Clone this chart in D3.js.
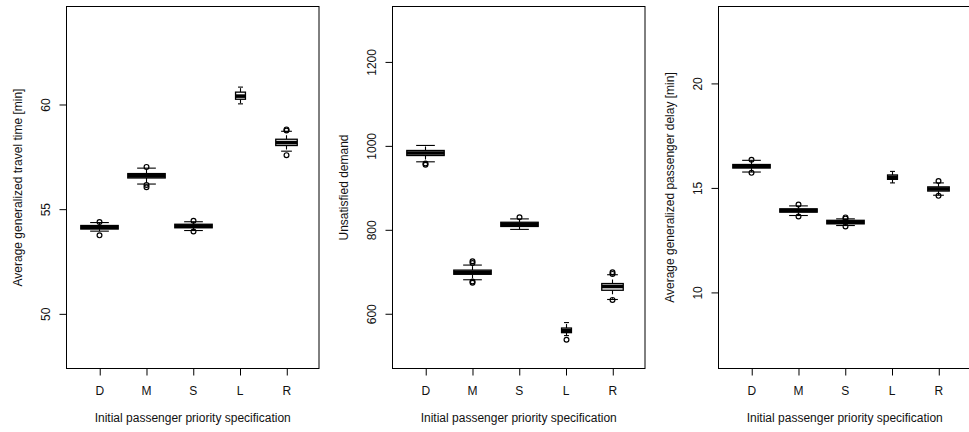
<!DOCTYPE html>
<html>
<head>
<meta charset="utf-8">
<script src="https://cdn.jsdelivr.net/npm/d3@7"></script>
<style>
  html, body { margin: 0; padding: 0; background: #fff; }
  svg { display: block; }
  text { font-family: "Liberation Sans", Arial, Helvetica, sans-serif; fill: #111; }
</style>
</head>
<body>
<svg id="chart" width="969" height="432"></svg>
<script>
// Priority specifications on the x axis
const categories = ["D", "M", "S", "L", "R"];
// Number of runs per specification (box widths scale with sqrt(n))
const sampleSize = [100, 100, 100, 7, 33];

// Average generalized travel time [min]
const travelLowerWhisker = [53.95, 56.20, 53.98, 60.03, 57.77];
const travelQ1           = [54.05, 56.49, 54.11, 60.25, 58.04];
const travelMedian       = [54.14, 56.59, 54.19, 60.40, 58.18];
const travelQ3           = [54.22, 56.70, 54.28, 60.59, 58.34];
const travelUpperWhisker = [54.36, 56.96, 54.40, 60.83, 58.72];
const travelOutliers     = [[54.39, 53.75], [57.02, 56.16, 56.05], [54.45, 53.93], [], [58.81, 58.76, 57.58]];
const travelTicks        = [50, 55, 60];

// Unsatisfied demand
const demandLowerWhisker = [962, 681, 801, 548, 634];
const demandQ1           = [977, 694, 808, 555, 656];
const demandMedian       = [983, 699, 813, 560, 665];
const demandQ3           = [989, 704, 818, 566, 672];
const demandUpperWhisker = [1001, 716, 826, 579, 693];
const demandOutliers     = [[958, 955], [725, 721, 677, 674], [830], [538], [699, 695, 633]];
const demandTicks        = [600, 800, 1000, 1200];

// Average generalized passenger delay [min]
const delayLowerWhisker = [15.76, 13.68, 13.20, 15.24, 14.65];
const delayQ1           = [15.95, 13.84, 13.28, 15.41, 14.85];
const delayMedian       = [16.04, 13.92, 13.36, 15.51, 14.95];
const delayQ3           = [16.12, 14.00, 13.45, 15.62, 15.05];
const delayUpperWhisker = [16.32, 14.14, 13.52, 15.79, 15.24];
const delayOutliers     = [[16.35, 15.72], [14.21, 13.63], [13.59, 13.53, 13.16], [], [15.33, 14.62]];
const delayTicks        = [10, 15, 20];

const xTitle = "Initial passenger priority specification";

const panels = [
  { title: "Average generalized travel time [min]", domain: [47.39, 64.68], ticks: travelTicks,
    lw: travelLowerWhisker, q1: travelQ1, med: travelMedian, q3: travelQ3, uw: travelUpperWhisker, out: travelOutliers },
  { title: "Unsatisfied demand", domain: [469.6, 1332], ticks: demandTicks,
    lw: demandLowerWhisker, q1: demandQ1, med: demandMedian, q3: demandQ3, uw: demandUpperWhisker, out: demandOutliers },
  { title: "Average generalized passenger delay [min]", domain: [6.36, 23.68], ticks: delayTicks,
    lw: delayLowerWhisker, q1: delayQ1, med: delayMedian, q3: delayQ3, uw: delayUpperWhisker, out: delayOutliers }
];

const svg = d3.select("#chart");
const panelWidth = 326;
const plot = { left: 66.5, top: 6.5, width: 252.5, height: 362 };
const maxN = d3.max(sampleSize);

panels.forEach((p, i) => {
  const g = svg.append("g").attr("transform", `translate(${i * panelWidth},0)`);

  const x = d3.scalePoint().domain(categories)
    .range([plot.left, plot.left + plot.width]).padding(0.7);
  const y = d3.scaleLinear().domain(p.domain)
    .range([plot.top + plot.height, plot.top]);
  const fullWidth = 0.8 * x.step();

  // Boxes
  categories.forEach((c, k) => {
    const cx = Math.round(x(c)) + 0.5;
    const w = fullWidth * Math.sqrt(sampleSize[k] / maxN);
    const bg = g.append("g");

    // whiskers (dashed, as in base boxplots)
    bg.append("line").attr("x1", cx).attr("x2", cx)
      .attr("y1", y(p.q3[k])).attr("y2", y(p.uw[k]))
      .attr("stroke", "#000").attr("stroke-width", 1.1).attr("stroke-dasharray", "4,4");
    bg.append("line").attr("x1", cx).attr("x2", cx)
      .attr("y1", y(p.q1[k])).attr("y2", y(p.lw[k]))
      .attr("stroke", "#000").attr("stroke-width", 1.1).attr("stroke-dasharray", "4,4");
    // staples
    [p.uw[k], p.lw[k]].forEach(v => {
      bg.append("line").attr("x1", cx - w / 4).attr("x2", cx + w / 4)
        .attr("y1", y(v)).attr("y2", y(v))
        .attr("stroke", "#000").attr("stroke-width", 1.1);
    });
    // box
    bg.append("rect").attr("x", cx - w / 2).attr("width", w)
      .attr("y", y(p.q3[k])).attr("height", y(p.q1[k]) - y(p.q3[k]))
      .attr("fill", "#fff").attr("stroke", "#000").attr("stroke-width", 1.3);
    // median
    bg.append("line").attr("x1", cx - w / 2).attr("x2", cx + w / 2)
      .attr("y1", y(p.med[k])).attr("y2", y(p.med[k]))
      .attr("stroke", "#000").attr("stroke-width", 3.6);
    // outliers
    bg.selectAll("circle.out").data(p.out[k]).join("circle")
      .attr("class", "out")
      .attr("cx", cx).attr("cy", d => y(d)).attr("r", 2.4)
      .attr("fill", "none").attr("stroke", "#000").attr("stroke-width", 1.2);
  });

  // Frame
  g.append("rect").attr("x", plot.left).attr("y", plot.top)
    .attr("width", plot.width).attr("height", plot.height)
    .attr("fill", "none").attr("stroke", "#000").attr("stroke-width", 1);

  // Bottom axis
  const xa = g.append("g").attr("transform", `translate(0,${plot.top + plot.height})`)
    .call(d3.axisBottom(x).tickSize(7).tickSizeOuter(0).tickPadding(0));
  xa.select(".domain").remove();
  xa.selectAll(".tick line").attr("stroke", "#000").attr("transform", "translate(0.5,0)");
  xa.selectAll(".tick text").attr("dy", null).attr("y", 26)
    .style("font-size", "12px").style("font-family", "'Liberation Sans', Arial, sans-serif").attr("fill", "#111");

  // Left axis with rotated labels
  const ya = g.append("g").attr("transform", `translate(${plot.left},0)`)
    .call(d3.axisLeft(y).tickValues(p.ticks).tickFormat(d3.format("d")).tickSize(7).tickSizeOuter(0));
  ya.select(".domain").remove();
  ya.selectAll(".tick line").attr("stroke", "#000");
  ya.selectAll(".tick text")
    .attr("transform", "rotate(-90)")
    .attr("x", 0).attr("y", -17).attr("dy", null)
    .attr("text-anchor", "middle")
    .style("font-size", "12px").style("font-family", "'Liberation Sans', Arial, sans-serif").attr("fill", "#111");

  // Titles
  g.append("text")
    .attr("x", plot.left + plot.width / 2).attr("y", plot.top + plot.height + 53.5)
    .attr("text-anchor", "middle").style("font-size", "12px")
    .text(xTitle);
  g.append("text")
    .attr("transform", `translate(${plot.left - 45},${plot.top + plot.height / 2}) rotate(-90)`)
    .attr("text-anchor", "middle").style("font-size", "12px")
    .text(p.title);
});
</script>
</body>
</html>
